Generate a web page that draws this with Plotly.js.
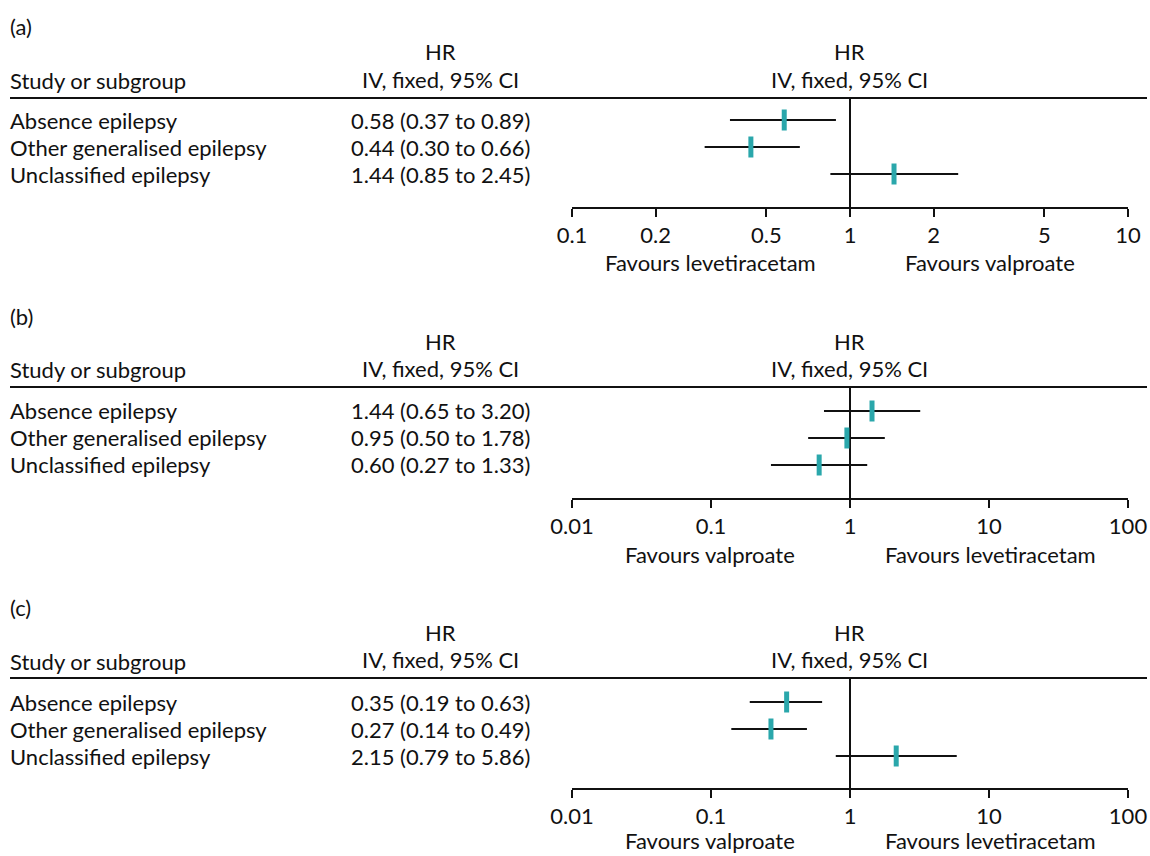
<!DOCTYPE html>
<html>
<head>
<meta charset="utf-8">
<script src="https://cdn.plot.ly/plotly-3.0.1.min.js"></script>
<style>html,body{margin:0;padding:0;background:#fff;}#chart{width:1150px;height:856px;}</style>
</head>
<body>
<div id="chart"></div>
<script>
// ---------- data ----------
const panelLabels = ['(a)', '(b)', '(c)'];
const subgroups = ['Absence epilepsy', 'Other generalised epilepsy', 'Unclassified epilepsy'];

const hrA = [0.58, 0.44, 1.44];
const loA = [0.37, 0.30, 0.85];
const hiA = [0.89, 0.66, 2.45];

const hrB = [1.44, 0.95, 0.60];
const loB = [0.65, 0.50, 0.27];
const hiB = [3.20, 1.78, 1.33];

const hrC = [0.35, 0.27, 2.15];
const loC = [0.19, 0.14, 0.79];
const hiC = [0.63, 0.49, 5.86];

const tickValsA = [0.1, 0.2, 0.5, 1, 2, 5, 10];
const tickTextA = ['0.1', '0.2', '0.5', '1', '2', '5', '10'];
const tickValsBC = [0.01, 0.1, 1, 10, 100];
const tickTextBC = ['0.01', '0.1', '1', '10', '100'];

const favoursLeft = ['Favours levetiracetam', 'Favours valproate', 'Favours valproate'];
const favoursRight = ['Favours valproate', 'Favours levetiracetam', 'Favours levetiracetam'];

const colHeaderTop = 'HR';
const colHeaderBottom = 'IV, fixed, 95% CI';
const studyHeader = 'Study or subgroup';

// ---------- layout helpers ----------
const W = 1150, H = 856;
const FONT = 'Lato, "Open Sans", sans-serif';
const FS = 22;
const TEAL = '#2aa7ab';
const px = x => x / W;
const py = y => 1 - y / H;

const panels = [
  {hr: hrA, lo: loA, hi: hiA, tv: tickValsA, tt: tickTextA, range: [-1, 1]},
  {hr: hrB, lo: loB, hi: hiB, tv: tickValsBC, tt: tickTextBC, range: [-2, 2]},
  {hr: hrC, lo: loC, hi: hiC, tv: tickValsBC, tt: tickTextBC, range: [-2, 2]}
];
// vertical pixel geometry of each panel
const headerLineY = [98, 387, 678];
const axisY = [207, 498, 788];
const firstRowY = [120, 411, 702];
const rowStep = 27;

const fmt = v => v.toFixed(2);

const traces = [];
const annotations = [];
const shapes = [];
const layout = {
  width: W, height: H,
  margin: {l: 0, r: 0, t: 0, b: 0},
  paper_bgcolor: '#fff', plot_bgcolor: 'rgba(0,0,0,0)',
  showlegend: false,
  font: {family: FONT, size: FS, color: '#111'},
  annotations: annotations,
  shapes: shapes
};

panels.forEach((p, k) => {
  const n = k + 1;
  const xa = n === 1 ? 'x' : 'x' + n;
  const ya = n === 1 ? 'y' : 'y' + n;
  const xKey = n === 1 ? 'xaxis' : 'xaxis' + n;
  const yKey = n === 1 ? 'yaxis' : 'yaxis' + n;

  const top = headerLineY[k], bot = axisY[k], r1 = firstRowY[k];
  const vTop = 1 - (r1 - top) / rowStep;
  const vBot = 1 + (bot - r1) / rowStep;

  layout[xKey] = {
    type: 'log', range: p.range, domain: [px(572), px(1128)], anchor: ya,
    showline: true, linecolor: '#111', linewidth: 2,
    ticks: 'outside', ticklen: 8, tickwidth: 2, tickcolor: '#111',
    tickvals: p.tv, ticktext: p.tt, tickfont: {family: FONT, size: FS, color: '#111'},
    showgrid: false, zeroline: false, fixedrange: true
  };
  layout[yKey] = {
    domain: [py(bot), py(top)], range: [vBot, vTop], anchor: xa,
    visible: false, showgrid: false, zeroline: false, fixedrange: true
  };

  // line of no effect
  traces.push({x: [1, 1], y: [vTop, vBot], xaxis: xa, yaxis: ya, mode: 'lines',
    line: {color: '#111', width: 2}, hoverinfo: 'skip'});

  // confidence intervals
  const cx = [], cy = [];
  p.hr.forEach((v, i) => { cx.push(p.lo[i], p.hi[i], null); cy.push(i + 1, i + 1, null); });
  traces.push({x: cx, y: cy, xaxis: xa, yaxis: ya, mode: 'lines',
    line: {color: '#111', width: 2}, hoverinfo: 'skip'});

  // point estimates
  traces.push({x: p.hr, y: p.hr.map((v, i) => i + 1), xaxis: xa, yaxis: ya, mode: 'markers',
    marker: {symbol: 'line-ns', size: 15, line: {color: TEAL, width: 5}}, hoverinfo: 'x'});

  // header line
  shapes.push({type: 'line', xref: 'paper', yref: 'paper', x0: px(10), x1: px(1147),
    y0: py(top), y1: py(top), line: {color: '#111', width: 2}});

  const ann = (text, x, y, xanchor) => annotations.push({text: text, xref: 'paper', yref: 'paper',
    x: x, y: y, xanchor: xanchor || 'center', yanchor: 'middle', showarrow: false,
    font: {family: FONT, size: FS, color: '#111'}});

  ann(panelLabels[k], px(8), py(top - 71), 'left');
  ann(colHeaderTop, px(440), py(top - 46));
  ann(colHeaderBottom, px(440), py(top - 19));
  ann(colHeaderTop, px(849), py(top - 46));
  ann(colHeaderBottom, px(849), py(top - 19));
  ann(studyHeader, px(8), py(top - 17), 'left');

  subgroups.forEach((s, i) => {
    annotations.push({text: s, xref: 'paper', yref: ya, x: px(8), y: i + 1, xanchor: 'left',
      yanchor: 'middle', showarrow: false, font: {family: FONT, size: FS, color: '#111'}});
    annotations.push({text: fmt(p.hr[i]) + ' (' + fmt(p.lo[i]) + ' to ' + fmt(p.hi[i]) + ')',
      xref: 'paper', yref: ya, x: px(440), y: i + 1, xanchor: 'center',
      yanchor: 'middle', showarrow: false, font: {family: FONT, size: FS, color: '#111'}});
  });

  const favY = Math.min(bot + 56, H - 16);
  ann(favoursLeft[k], px(710), py(favY));
  ann(favoursRight[k], px(990), py(favY));
});

Plotly.newPlot('chart', traces, layout, {displayModeBar: false, staticPlot: true});
</script>
</body>
</html>
